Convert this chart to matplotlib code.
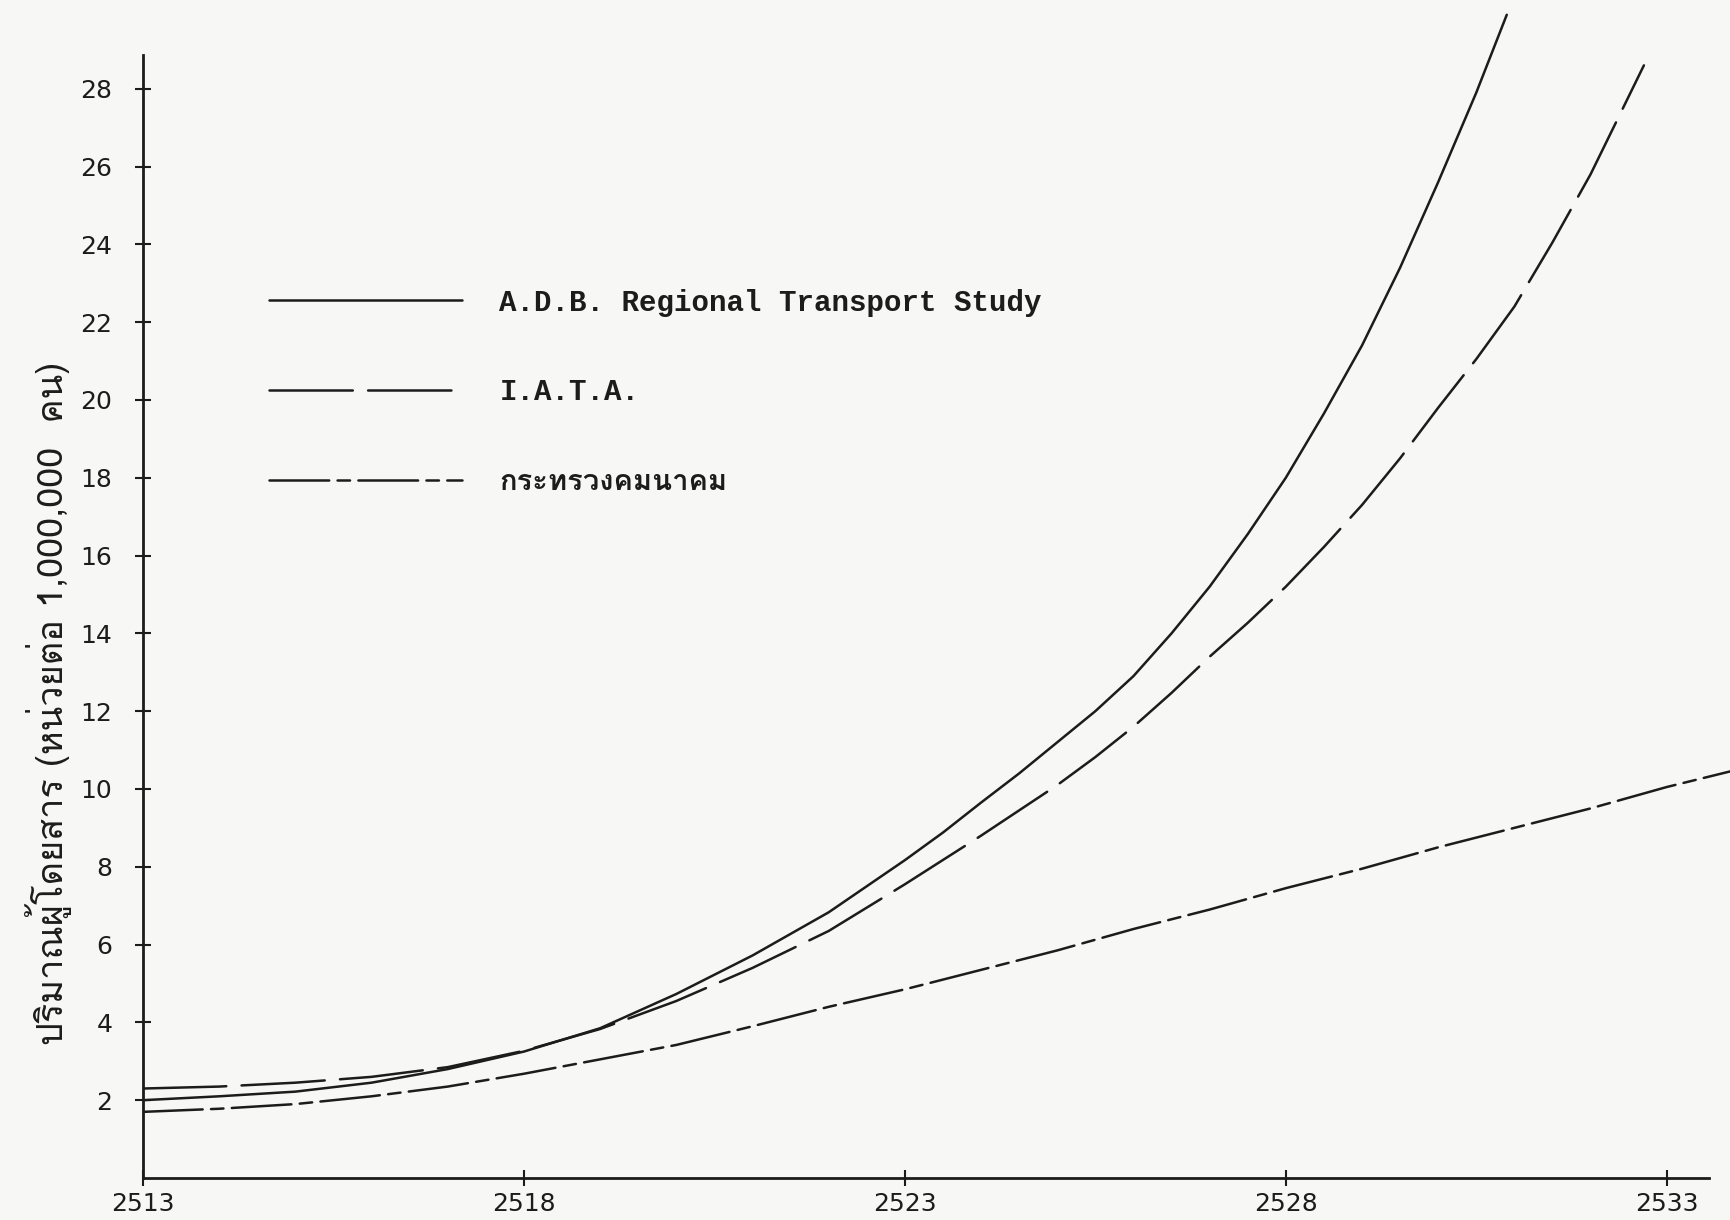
import matplotlib
matplotlib.use('Agg')
import matplotlib.pyplot as plt
from matplotlib import font_manager
from fontTools.ttLib import TTFont

# values (passengers, millions)
years_adb = [2513, 2514, 2515, 2516, 2517, 2518, 2519, 2520, 2521, 2522, 2523, 2523.5,
             2524, 2524.5, 2525, 2525.5, 2526, 2526.5, 2527, 2527.5, 2528, 2528.5,
             2529, 2529.5, 2530, 2530.5, 2530.9]
adb = [2.0, 2.1, 2.22, 2.45, 2.8, 3.25, 3.85, 4.73, 5.72, 6.83, 8.17, 8.88,
       9.65, 10.4, 11.2, 12.0, 12.9, 14.0, 15.2, 16.55, 18.0, 19.65,
       21.4, 23.4, 25.6, 27.9, 29.9]

years_iata = [2513, 2514, 2515, 2516, 2517, 2518, 2519, 2520, 2521, 2522, 2523, 2524,
              2525, 2525.5, 2526, 2526.5, 2527, 2527.5, 2528, 2528.5, 2529, 2529.5,
              2530, 2530.5, 2531, 2531.5, 2532, 2532.7]
iata = [2.3, 2.35, 2.45, 2.6, 2.85, 3.27, 3.83, 4.55, 5.4, 6.35, 7.55, 8.8,
        10.1, 10.82, 11.6, 12.47, 13.4, 14.27, 15.2, 16.22, 17.3, 18.5,
        19.8, 21.05, 22.4, 24.05, 25.8, 28.6]

years_moc = [2513, 2514, 2515, 2516, 2517, 2518, 2519, 2520, 2521, 2522, 2523, 2524,
             2525, 2526, 2527, 2528, 2529, 2530, 2531, 2532, 2533, 2533.83]
moc = [1.7, 1.78, 1.9, 2.1, 2.35, 2.68, 3.05, 3.42, 3.9, 4.4, 4.85, 5.35,
       5.85, 6.4, 6.9, 7.45, 7.95, 8.5, 9.0, 9.5, 10.05, 10.45]

x_ticks = [2513, 2518, 2523, 2528, 2533]
y_ticks = list(range(2, 30, 2))
series_labels = ['A.D.B. Regional Transport Study', 'I.A.T.A.', 'กระทรวงคมนาคม']
y_title = 'ปริมาณผู้โดยสาร (หน่วยต่อ 1,000,000  คน)'


def find_thai_font():
    for path in sorted(font_manager.findSystemFonts()):
        try:
            tt = TTFont(path, fontNumber=0, lazy=True)
            cmap = tt.getBestCmap()
            if cmap and 0x0E01 in cmap:
                return path
        except Exception:
            continue
    return None


thai_path = find_thai_font()
if thai_path:
    font_manager.fontManager.addfont(thai_path)
    thai_name = font_manager.FontProperties(fname=thai_path).get_name()
    thai_family = [thai_name, 'DejaVu Sans']
else:
    thai_family = ['DejaVu Sans']

plt.rcParams['lines.scale_dashes'] = False
ink = '#1c1c1c'
paper = '#f7f7f5'

fig = plt.figure(figsize=(17.3, 12.2), dpi=100, facecolor=paper)
ax = fig.add_axes([143/1730, 42/1220, 1587/1730, 1178/1220])
ax.set_facecolor(paper)
ax.set_xlim(2513, 2533.83)
ax.set_ylim(0, 30.28)

l1, = ax.plot(years_adb, adb, color=ink, lw=1.8, solid_capstyle='round',
              solid_joinstyle='round')
l2, = ax.plot(years_iata, iata, color=ink, lw=1.8, dashes=(60, 11), dash_capstyle='round')
l3, = ax.plot(years_moc, moc, color=ink, lw=1.8, dashes=(43, 6, 9, 6), dash_capstyle='round')

for side in ['top', 'right']:
    ax.spines[side].set_visible(False)
ax.spines['left'].set_bounds(0, 28.87)
ax.spines['bottom'].set_bounds(2513, 2533.55)
for side in ['left', 'bottom']:
    ax.spines[side].set_linewidth(2)
    ax.spines[side].set_color(ink)

ax.set_xticks(x_ticks)
ax.set_xticklabels([str(t) for t in x_ticks])
ax.set_yticks(y_ticks)
ax.set_yticklabels([str(t) for t in y_ticks])
ax.tick_params(axis='both', direction='inout', length=12, width=1.5, color=ink,
               labelsize=18, labelcolor=ink)
ax.tick_params(axis='y', pad=16)
ax.tick_params(axis='x', pad=4)

leg = ax.legend([l1, l2, l3], series_labels, loc='upper left',
                bbox_to_anchor=(0.0794, 0.755), frameon=False, borderpad=0,
                borderaxespad=0, handlelength=6.6, handletextpad=1.3,
                labelspacing=2.12,
                prop={'family': 'Liberation Mono', 'weight': 'bold', 'size': 21})
for t in leg.get_texts():
    t.set_color(ink)
leg.get_texts()[2].set_fontfamily(thai_family)

ax.set_ylabel(y_title, family=thai_family, fontsize=26, color=ink)
ax.yaxis.set_label_coords(-0.045, 0.403)

fig.savefig('out.png', dpi=100, facecolor=paper)
